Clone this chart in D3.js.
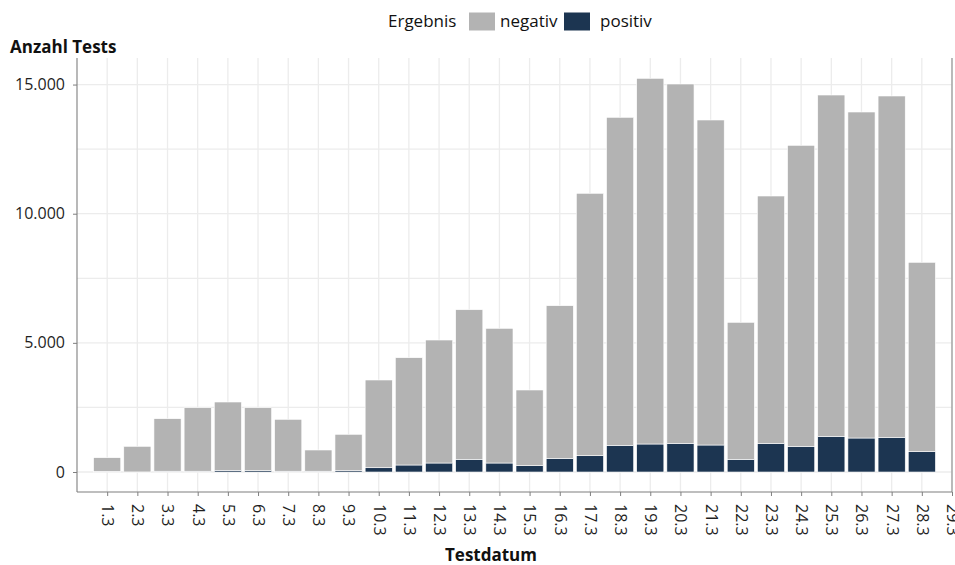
<!DOCTYPE html>
<html>
<head>
<meta charset="utf-8">
<script src="https://cdn.jsdelivr.net/npm/d3@7"></script>
<style>
  body { margin: 0; background: #fff; font-family: "Open Sans", sans-serif; }
  .tick text { font-family: "Open Sans", sans-serif; font-size: 16px; fill: #1f1f1f; }
  .tick line { stroke: #7f7f7f; }
</style>
</head>
<body>
<div id="chart"></div>
<script>
// days of March 2020
var days = d3.range(1, 29);
var dayLabels = d3.range(1, 30).map(function (d) { return d + ".3"; });
var negativ = [529, 992, 2034, 2459, 2650, 2434, 2010, 822, 1410, 3396, 4154, 4762, 5791, 5215,
               2930, 5908, 10159, 12698, 14157, 13910, 12583, 5303, 9574, 11653, 13213, 12621, 13214, 7332];
var positiv = [25, 3, 30, 30, 60, 55, 30, 30, 50, 166, 271, 348, 492, 348,
               245, 530, 631, 1034, 1084, 1111, 1045, 492, 1111, 995, 1382, 1316, 1343, 786];
var yTicks = [0, 5000, 10000, 15000];
var seriesNames = ["negativ", "positiv"];
var colors = { negativ: "#b3b3b3", positiv: "#1c3551" };

var W = 955, H = 565;
var pLeft = 77, pRight = 952, pTop = 58, pBottom = 492;

var de = d3.formatLocale({ decimal: ",", thousands: ".", grouping: [3], currency: ["", " €"] });
var fmt = de.format(",");

var svg = d3.select("#chart").append("svg")
    .attr("width", W)
    .attr("height", H);

var x = d3.scaleUtc()
    .domain([new Date(Date.UTC(2020, 1, 29)), new Date(Date.UTC(2020, 2, 29))])
    .range([pLeft, pRight]);

var y = d3.scaleLinear()
    .domain([-774, 16028])
    .range([pBottom, pTop]);

var dayW = x(new Date(Date.UTC(2020, 2, 2))) - x(new Date(Date.UTC(2020, 2, 1)));
var barW = dayW * 0.9;

// gridlines
var grid = svg.append("g");
[2500, 7500, 12500].concat(yTicks).forEach(function (v) {
    grid.append("line")
        .attr("x1", pLeft).attr("x2", pRight)
        .attr("y1", y(v)).attr("y2", y(v))
        .attr("stroke", "#ececec").attr("stroke-width", 1.3);
});
d3.range(1, 30).forEach(function (d) {
    var xx = x(new Date(Date.UTC(2020, 2, d)));
    grid.append("line")
        .attr("x1", xx).attr("x2", xx)
        .attr("y1", pTop).attr("y2", pBottom)
        .attr("stroke", "#ececec").attr("stroke-width", 1.3);
});

// stacked bars
var rows = days.map(function (d, i) {
    return { date: new Date(Date.UTC(2020, 2, d)), negativ: negativ[i], positiv: positiv[i] };
});
var stack = d3.stack().keys(["positiv", "negativ"])(rows);

svg.append("g").selectAll("g")
    .data(stack)
    .enter().append("g")
    .attr("fill", function (s) { return colors[s.key]; })
    .selectAll("rect")
    .data(function (s) { return s; })
    .enter().append("rect")
    .attr("x", function (d) { return x(d.data.date) - barW / 2; })
    .attr("width", barW)
    .attr("y", function (d) { return y(d[1]); })
    .attr("height", function (d) { return y(d[0]) - y(d[1]); })
    .attr("stroke", "#ffffff")
    .attr("stroke-width", 0.6);

// axis lines
svg.append("line").attr("x1", pLeft).attr("x2", pLeft).attr("y1", pTop).attr("y2", pBottom)
    .attr("stroke", "#7f7f7f").attr("stroke-width", 1.1);
svg.append("line").attr("x1", pRight).attr("x2", pRight).attr("y1", pTop).attr("y2", pBottom)
    .attr("stroke", "#8a8a8a").attr("stroke-width", 1.1);
svg.append("line").attr("x1", pLeft).attr("x2", pRight).attr("y1", pBottom).attr("y2", pBottom)
    .attr("stroke", "#7f7f7f").attr("stroke-width", 1.1);

// y axis
var yAxis = svg.append("g")
    .attr("transform", "translate(" + pLeft + ",0)")
    .call(d3.axisLeft(y).tickValues(yTicks).tickFormat(fmt).tickSize(4).tickPadding(8));
yAxis.select(".domain").remove();

// x axis
var xAxis = svg.append("g")
    .attr("transform", "translate(0," + pBottom + ")")
    .call(d3.axisBottom(x)
        .tickValues(d3.range(1, 30).map(function (d) { return new Date(Date.UTC(2020, 2, d)); }))
        .tickFormat(function (d, i) { return dayLabels[i]; })
        .tickSize(4));
xAxis.select(".domain").remove();
xAxis.selectAll(".tick text")
    .attr("transform", "rotate(90)")
    .attr("x", 12)
    .attr("y", 0)
    .attr("dy", "0.35em")
    .attr("text-anchor", "start");

// axis titles
svg.append("text")
    .attr("x", 10).attr("y", 53)
    .attr("font-size", 17).attr("font-weight", "bold").attr("fill", "#111")
    .text("Anzahl Tests");

svg.append("text")
    .attr("x", 491).attr("y", 561)
    .attr("text-anchor", "middle")
    .attr("font-size", 17).attr("font-weight", "bold").attr("fill", "#111")
    .text("Testdatum");

// legend
var lg = svg.append("g");
lg.append("text").attr("x", 388).attr("y", 27).attr("font-size", 17).attr("fill", "#111").text("Ergebnis");
var lx = [469, 564];
seriesNames.forEach(function (k, i) {
    lg.append("rect")
        .attr("x", lx[i]).attr("y", 12.5)
        .attr("width", 26).attr("height", 18)
        .attr("fill", colors[k]);
    lg.append("text")
        .attr("x", lx[i] + 31 + (i === 1 ? 5 : 0)).attr("y", 27)
        .attr("font-size", 17).attr("fill", "#111")
        .text(k);
});
</script>
</body>
</html>
